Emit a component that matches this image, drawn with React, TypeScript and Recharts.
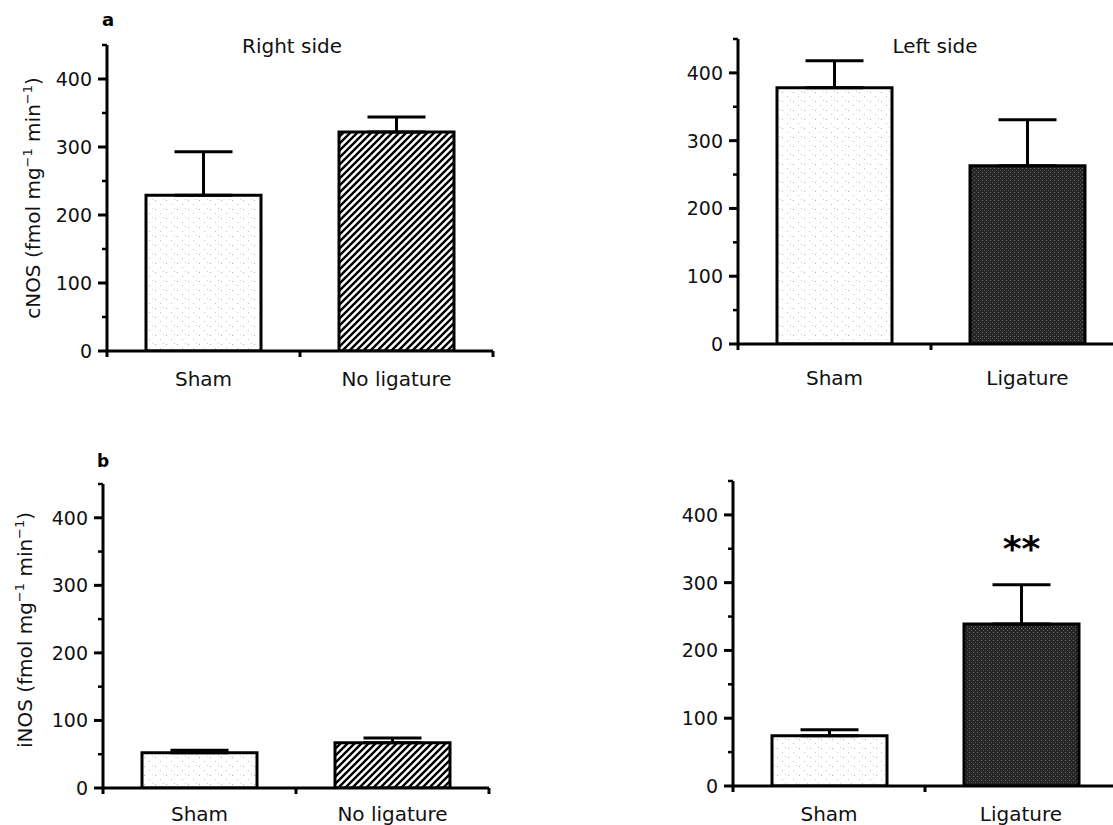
import React from 'react';
import { BarChart, Bar, XAxis, YAxis, ErrorBar, LabelList, Cell } from 'recharts';

// ---------- data ----------
const yTicks = [0, 50, 100, 150, 200, 250, 300, 350, 400, 450];

const cnosRightCats = ['Sham', 'No ligature'];
const cnosRightMean = [229, 322];
const cnosRightSem = [64, 22];

const cnosLeftCats = ['Sham', 'Ligature'];
const cnosLeftMean = [378, 263];
const cnosLeftSem = [40, 68];

const inosRightCats = ['Sham', 'No ligature'];
const inosRightMean = [52, 67];
const inosRightSem = [4, 7];

const inosLeftCats = ['Sham', 'Ligature'];
const inosLeftMean = [74, 239];
const inosLeftSem = [9, 58];
const inosLeftSig = ['', '**'];

const rightFills = ['url(#dotsLight)', 'url(#hatch)'];
const leftFills = ['url(#dotsLight)', 'url(#darkTex)'];

const FONT = 'DejaVu Sans';
const XH = 45;
const MR = 10;

function YTick(props: any) {
  const { y, payload, axisX } = props;
  const v = payload.value;
  const major = v % 100 === 0;
  return (
    <g>
      <line x1={axisX - (major ? 9 : 5)} x2={axisX} y1={y} y2={y} stroke="#000" strokeWidth={major ? 3 : 2.5} />
      {major && v <= 400 ? (
        <text x={axisX - 15} y={y} dy="0.36em" textAnchor="end" fontSize={19} fontFamily={FONT} fill="#111">
          {v}
        </text>
      ) : null}
    </g>
  );
}

function XTick(props: any) {
  const { x, payload, index, axisY, halfBand, n, labelDy } = props;
  return (
    <g>
      <line x1={x - halfBand} x2={x - halfBand} y1={axisY} y2={axisY + 6} stroke="#000" strokeWidth={3} />
      {index === n - 1 ? (
        <line x1={x + halfBand} x2={x + halfBand} y1={axisY} y2={axisY + 6} stroke="#000" strokeWidth={3} />
      ) : null}
      <text x={x} y={axisY + labelDy} textAnchor="middle" fontSize={20} fontFamily={FONT} fill="#111">
        {payload.value}
      </text>
    </g>
  );
}

function YTitle({ x, y, name }: { x: number; y: number; name: string }) {
  return (
    <text x={x} y={y} transform={`rotate(-90 ${x} ${y})`} textAnchor="middle" fontSize={20} fontFamily={FONT} fill="#111">
      {name} (fmol mg
      <tspan dy={-8} fontSize={13}>−1</tspan>
      <tspan dy={8}> min</tspan>
      <tspan dy={-8} fontSize={13}>−1</tspan>
      <tspan dy={8}>)</tspan>
    </text>
  );
}

type PanelProps = {
  left: number; top: number; width: number; height: number; marginTop: number; axisW: number;
  cats: string[]; mean: number[]; sem: number[]; fills: string[]; labelDy: number;
  title?: { x: number; y: number; name: string }; sig?: string[];
};

function Panel(p: PanelProps) {
  const data = p.cats.map((c, i) => ({
    name: c,
    value: p.mean[i],
    err: [0, p.sem[i]],
    sig: p.sig ? p.sig[i] : '',
  }));
  const plotBottom = p.height - XH;
  const halfBand = (p.width - MR - p.axisW) / (2 * p.cats.length);
  return (
    <div style={{ position: 'absolute', left: p.left, top: p.top }}>
      <BarChart width={p.width} height={p.height} data={data} margin={{ top: p.marginTop, right: MR, left: 0, bottom: 0 }}>
        <XAxis
          dataKey="name"
          height={XH}
          interval={0}
          axisLine={{ stroke: '#000', strokeWidth: 3 }}
          tickLine={false}
          tick={(tp: any) => <XTick {...tp} axisY={plotBottom} halfBand={halfBand} n={p.cats.length} labelDy={p.labelDy} />}
        />
        <YAxis
          type="number"
          width={p.axisW}
          domain={[0, 450]}
          ticks={yTicks}
          interval={0}
          allowDataOverflow
          axisLine={{ stroke: '#000', strokeWidth: 3 }}
          tickLine={false}
          tick={(tp: any) => <YTick {...tp} axisX={p.axisW} />}
          label={p.title ? () => <YTitle x={p.title!.x} y={p.title!.y} name={p.title!.name} /> : undefined}
        />
        <Bar dataKey="value" barSize={115} stroke="#000" strokeWidth={3} isAnimationActive={false}>
          {data.map((d, i) => (
            <Cell key={i} fill={p.fills[i]} />
          ))}
          <ErrorBar dataKey="err" direction="y" width={29} stroke="#000" strokeWidth={3} />
          {p.sig ? (
            <LabelList dataKey="sig" position="top" offset={63} fontSize={36} fontWeight="bold" fontFamily={FONT} fill="#000" />
          ) : null}
        </Bar>
      </BarChart>
    </div>
  );
}

export default function App() {
  return (
    <div style={{ position: 'absolute', left: 0, top: 0, width: 1113, height: 825, overflow: 'hidden', background: '#fff' }}>
      <svg width={0} height={0} style={{ position: 'absolute' }}>
        <defs>
          <pattern id="dotsLight" patternUnits="userSpaceOnUse" width={11} height={9}>
            <rect width={11} height={9} fill="#fff" />
            <rect x={1} y={2} width={1} height={1} fill="#b0b0b0" />
            <rect x={6} y={6} width={1} height={1} fill="#c4c4c4" />
            <rect x={9} y={1} width={1} height={1} fill="#d0d0d0" />
          </pattern>
          <pattern id="darkTex" patternUnits="userSpaceOnUse" width={4} height={4}>
            <rect width={4} height={4} fill="#262626" />
            <rect x={0} y={0} width={1} height={1} fill="#6e6e6e" />
            <rect x={2} y={2} width={1} height={1} fill="#585858" />
          </pattern>
          <pattern id="hatch" patternUnits="userSpaceOnUse" width={7} height={7}>
            <rect width={7} height={7} fill="#fff" />
            <path d="M-1,1 l2,-2 M0,7 l7,-7 M6,8 l2,-2" stroke="#000" strokeWidth={2.4} />
          </pattern>
        </defs>
      </svg>

      <Panel left={0} top={0} width={503} height={396} marginTop={45} axisW={107}
        cats={cnosRightCats} mean={cnosRightMean} sem={cnosRightSem} fills={rightFills} labelDy={35}
        title={{ x: 40, y: 198, name: 'cNOS' }} />
      <Panel left={638} top={0} width={496} height={389} marginTop={39} axisW={100}
        cats={cnosLeftCats} mean={cnosLeftMean} sem={cnosLeftSem} fills={leftFills} labelDy={41} />
      <Panel left={0} top={440} width={499} height={393} marginTop={44} axisW={103}
        cats={inosRightCats} mean={inosRightMean} sem={inosRightSem} fills={rightFills} labelDy={33}
        title={{ x: 32, y: 190, name: 'iNOS' }} />
      <Panel left={633} top={440} width={494} height={391} marginTop={41} axisW={100}
        cats={inosLeftCats} mean={inosLeftMean} sem={inosLeftSem} fills={leftFills} labelDy={35}
        sig={inosLeftSig} />

      <svg width={1113} height={825} style={{ position: 'absolute', left: 0, top: 0, pointerEvents: 'none' }}>
        <text x={102} y={26} fontSize={18} fontWeight="bold" fontFamily={FONT} fill="#000">a</text>
        <text x={97} y={467} fontSize={17} fontWeight="bold" fontFamily={FONT} fill="#000">b</text>
        <text x={292} y={53} textAnchor="middle" fontSize={20} fontFamily={FONT} fill="#111">Right side</text>
        <text x={935} y={53} textAnchor="middle" fontSize={20} fontFamily={FONT} fill="#111">Left side</text>
      </svg>
    </div>
  );
}
